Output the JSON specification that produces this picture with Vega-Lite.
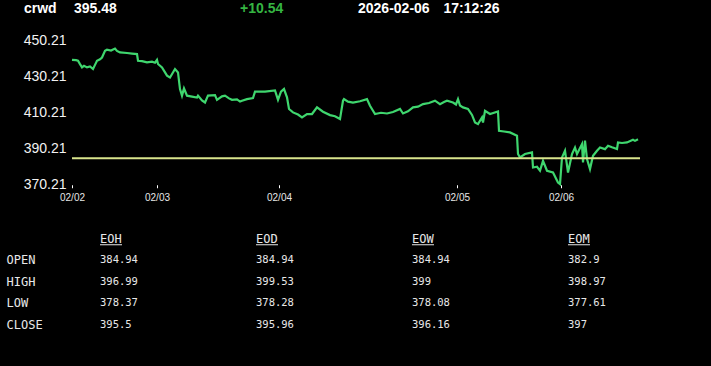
{
  "$schema": "https://vega.github.io/schema/vega-lite/v6.json",
  "background": "#000000",
  "padding": {"left": 6, "top": 2, "right": 69, "bottom": 9},
  "bounds": "flush",
  "spacing": 21.75,
  "config": {
    "view": {"stroke": null},
    "axis": {"grid": false, "domain": false, "title": null}
  },
  "vconcat": [
    {
      "width": 568,
      "height": 16.25,
      "data": {"values": [
        {"role": "symbol", "text": "crwd", "col": -48},
        {"role": "last", "text": "395.48", "col": 2},
        {"role": "change", "text": "+10.54", "col": 168},
        {"role": "date", "text": "2026-02-06", "col": 286},
        {"role": "time", "text": "17:12:26", "col": 371.5}
      ]},
      "mark": {"type": "text", "align": "left", "baseline": "middle", "dy": -1, "font": "Liberation Sans", "fontWeight": "bold", "fontSize": 14},
      "encoding": {
        "x": {"field": "col", "type": "quantitative", "scale": {"domain": [0, 568], "nice": false, "zero": false}, "axis": null},
        "text": {"field": "text"},
        "color": {"condition": {"test": "datum.role == 'change'", "value": "#35b542"}, "value": "#ffffff"}
      }
    },
    {
      "width": 568,
      "height": 144,
      "encoding": {
        "y": {"field": "v", "type": "quantitative",
          "scale": {"domain": [370.21, 450.21], "nice": false, "zero": false},
          "axis": {"values": [370.21, 390.21, 410.21, 430.21, 450.21], "format": ".2f",
            "labelOverlap": false, "labelFlush": false,
            "ticks": false, "labelPadding": 6, "labelFont": "Liberation Sans", "labelFontSize": 14, "labelColor": "#f2f2f2"}}
      },
      "layer": [
        {
          "data": {"values": [
            {"t": 0, "v": 439.6}, {"t": 4, "v": 439.4}, {"t": 6, "v": 439.1}, {"t": 8, "v": 437.2}, {"t": 10, "v": 435.4}, {"t": 12, "v": 436.3}, {"t": 15, "v": 435.4},
            {"t": 18, "v": 435.9}, {"t": 21, "v": 434.5}, {"t": 23, "v": 436.8}, {"t": 25, "v": 439.1}, {"t": 28, "v": 439.9}, {"t": 30, "v": 440.9}, {"t": 33, "v": 444.6}, {"t": 35, "v": 445.2},
            {"t": 39, "v": 444.8}, {"t": 43, "v": 445.9}, {"t": 45, "v": 444.6}, {"t": 48, "v": 443.7}, {"t": 55, "v": 443.4}, {"t": 60, "v": 443.1}, {"t": 65, "v": 442.8}, {"t": 66, "v": 439.1}, {"t": 70, "v": 438.9}, {"t": 75, "v": 438.2},
            {"t": 80, "v": 438.6}, {"t": 83, "v": 438.0}, {"t": 85, "v": 439.6}, {"t": 86, "v": 437.3}, {"t": 90, "v": 435.4}, {"t": 95, "v": 430.8}, {"t": 98, "v": 429.8},
            {"t": 103, "v": 434.5}, {"t": 106, "v": 432.6}, {"t": 108, "v": 423.4}, {"t": 110, "v": 419.7}, {"t": 112, "v": 423.7},
            {"t": 115, "v": 419.7}, {"t": 120, "v": 419.2}, {"t": 125, "v": 418.7}, {"t": 126, "v": 419.7}, {"t": 130, "v": 417.0}, {"t": 133, "v": 415.9}, {"t": 136, "v": 419.7},
            {"t": 143, "v": 420.0}, {"t": 145, "v": 417.4}, {"t": 150, "v": 419.3}, {"t": 153, "v": 419.7}, {"t": 157, "v": 418.2}, {"t": 160, "v": 417.4},
            {"t": 165, "v": 417.6}, {"t": 168, "v": 416.4}, {"t": 170, "v": 416.9}, {"t": 175, "v": 417.8}, {"t": 181, "v": 418.4}, {"t": 183, "v": 421.9}, {"t": 193, "v": 421.9}, {"t": 203, "v": 422.6},
            {"t": 206, "v": 417.4}, {"t": 209, "v": 421.9}, {"t": 212, "v": 423.4}, {"t": 215, "v": 418.8}, {"t": 217, "v": 412.3},
            {"t": 221, "v": 410.4}, {"t": 226, "v": 409.2}, {"t": 230, "v": 407.6}, {"t": 235, "v": 409.5}, {"t": 240, "v": 409.5}, {"t": 245, "v": 413.2},
            {"t": 251, "v": 410.8}, {"t": 258, "v": 408.9}, {"t": 263, "v": 408.3}, {"t": 268, "v": 406.7}, {"t": 271, "v": 416.9}, {"t": 272, "v": 417.8},
            {"t": 276, "v": 416.4}, {"t": 281, "v": 415.9}, {"t": 288, "v": 416.6}, {"t": 295, "v": 417.8}, {"t": 298, "v": 414.1}, {"t": 303, "v": 409.5}, {"t": 309, "v": 410.2}, {"t": 315, "v": 409.8},
            {"t": 321, "v": 410.6}, {"t": 328, "v": 412.3}, {"t": 331, "v": 409.8}, {"t": 336, "v": 411.0}, {"t": 341, "v": 413.2}, {"t": 346, "v": 413.6}, {"t": 351, "v": 415.0}, {"t": 357, "v": 415.6}, {"t": 363, "v": 416.9},
            {"t": 368, "v": 415.0}, {"t": 372, "v": 416.2}, {"t": 375, "v": 416.9}, {"t": 381, "v": 415.9}, {"t": 384, "v": 414.8}, {"t": 386, "v": 417.8}, {"t": 388, "v": 414.2}, {"t": 391, "v": 413.2},
            {"t": 396, "v": 412.3}, {"t": 400, "v": 409.0}, {"t": 403, "v": 404.8}, {"t": 406, "v": 403.9}, {"t": 410, "v": 407.6}, {"t": 411, "v": 404.8},
            {"t": 413, "v": 411.3}, {"t": 418, "v": 409.5}, {"t": 426, "v": 410.9}, {"t": 427, "v": 400.2}, {"t": 432, "v": 399.8}, {"t": 438, "v": 399.3},
            {"t": 445, "v": 397.4}, {"t": 446, "v": 387.3}, {"t": 448, "v": 385.4}, {"t": 453, "v": 387.3}, {"t": 460, "v": 388.2},
            {"t": 461, "v": 379.8}, {"t": 465, "v": 380.2}, {"t": 468, "v": 378.0}, {"t": 471, "v": 383.5}, {"t": 475, "v": 378.0}, {"t": 481, "v": 377.0},
            {"t": 486, "v": 371.5}, {"t": 488, "v": 370.6}, {"t": 490, "v": 385.4}, {"t": 493, "v": 389.1}, {"t": 496, "v": 377.0},
            {"t": 500, "v": 387.3}, {"t": 503, "v": 390.9}, {"t": 505, "v": 387.3}, {"t": 510, "v": 392.8}, {"t": 511, "v": 382.6},
            {"t": 513, "v": 394.7}, {"t": 515, "v": 384.5}, {"t": 518, "v": 378.9}, {"t": 521, "v": 386.3}, {"t": 525, "v": 389.1},
            {"t": 528, "v": 390.9}, {"t": 533, "v": 390.0}, {"t": 536, "v": 391.9}, {"t": 540, "v": 391.0}, {"t": 545, "v": 390.0}, {"t": 546, "v": 393.7},
            {"t": 550, "v": 393.4}, {"t": 555, "v": 393.7}, {"t": 561, "v": 395.2}, {"t": 563, "v": 394.6}, {"t": 566, "v": 395.5}
          ]},
          "mark": {"type": "line", "color": "#3fd66e", "strokeWidth": 2.2},
          "encoding": {
            "x": {"field": "t", "type": "quantitative",
              "scale": {"domain": [0, 568], "nice": false, "zero": false},
              "axis": {"values": [0, 85, 207, 385, 489],
                "labelExpr": "datum.value < 40 ? '02/02' : datum.value < 150 ? '02/03' : datum.value < 300 ? '02/04' : datum.value < 450 ? '02/05' : '02/06'",
                "labelFlush": false, "labelOverlap": false,
                "ticks": true, "tickColor": "#ffffff", "tickSize": 3, "labelPadding": 5,
                "labelFont": "Liberation Sans", "labelFontSize": 10, "labelColor": "#e6e6e6"}}
          }
        },
        {
          "data": {"values": [{"v": 384.94}]},
          "mark": {"type": "rule", "color": "#d9e48c", "strokeWidth": 2}
        }
      ]
    },
    {
      "width": 524,
      "height": 150.5,
      "data": {"values": [
        {"row": "HDR", "col": "EOH", "v": "EOH"},
        {"row": "HDR", "col": "EOD", "v": "EOD"},
        {"row": "HDR", "col": "EOW", "v": "EOW"},
        {"row": "HDR", "col": "EOM", "v": "EOM"},
        {"row": "OPEN", "col": "EOH", "v": "384.94"},
        {"row": "OPEN", "col": "EOD", "v": "384.94"},
        {"row": "OPEN", "col": "EOW", "v": "384.94"},
        {"row": "OPEN", "col": "EOM", "v": "382.9"},
        {"row": "HIGH", "col": "EOH", "v": "396.99"},
        {"row": "HIGH", "col": "EOD", "v": "399.53"},
        {"row": "HIGH", "col": "EOW", "v": "399"},
        {"row": "HIGH", "col": "EOM", "v": "398.97"},
        {"row": "LOW", "col": "EOH", "v": "378.37"},
        {"row": "LOW", "col": "EOD", "v": "378.28"},
        {"row": "LOW", "col": "EOW", "v": "378.08"},
        {"row": "LOW", "col": "EOM", "v": "377.61"},
        {"row": "CLOSE", "col": "EOH", "v": "395.5"},
        {"row": "CLOSE", "col": "EOD", "v": "395.96"},
        {"row": "CLOSE", "col": "EOW", "v": "396.16"},
        {"row": "CLOSE", "col": "EOM", "v": "397"}
      ]},
      "encoding": {
        "x": {"field": "col", "type": "nominal",
          "scale": {"type": "point", "domain": ["EOH", "EOD", "EOW", "EOM"], "padding": 0.1795}, "axis": null},
        "y": {"field": "row", "type": "nominal",
          "scale": {"type": "band", "domain": ["HDR", "OPEN", "HIGH", "LOW", "CLOSE"], "paddingInner": 0, "paddingOuter": 1},
          "axis": {"labelExpr": "datum.value == 'HDR' ? '' : datum.value", "ticks": false, "tickSize": 0,
            "labelAlign": "left", "labelPadding": 66, "labelFont": "DejaVu Sans Mono", "labelFontSize": 12, "labelColor": "#e8e8e8"}}
      },
      "layer": [
        {
          "transform": [{"filter": "datum.row == 'HDR'"}],
          "mark": {"type": "text", "align": "left", "baseline": "middle", "font": "DejaVu Sans Mono", "fontSize": 12, "color": "#e8e8e8"},
          "encoding": {"text": {"field": "v"}}
        },
        {
          "transform": [{"filter": "datum.row == 'HDR'"}],
          "mark": {"type": "rule", "color": "#e8e8e8", "strokeWidth": 1, "yOffset": 6, "y2Offset": 6, "x2Offset": 22},
          "encoding": {"x2": {"field": "col"}}
        },
        {
          "transform": [{"filter": "datum.row != 'HDR'"}],
          "mark": {"type": "text", "align": "left", "baseline": "middle", "font": "DejaVu Sans Mono", "fontSize": 10.5, "color": "#e8e8e8"},
          "encoding": {"text": {"field": "v"}}
        }
      ]
    }
  ]
}
